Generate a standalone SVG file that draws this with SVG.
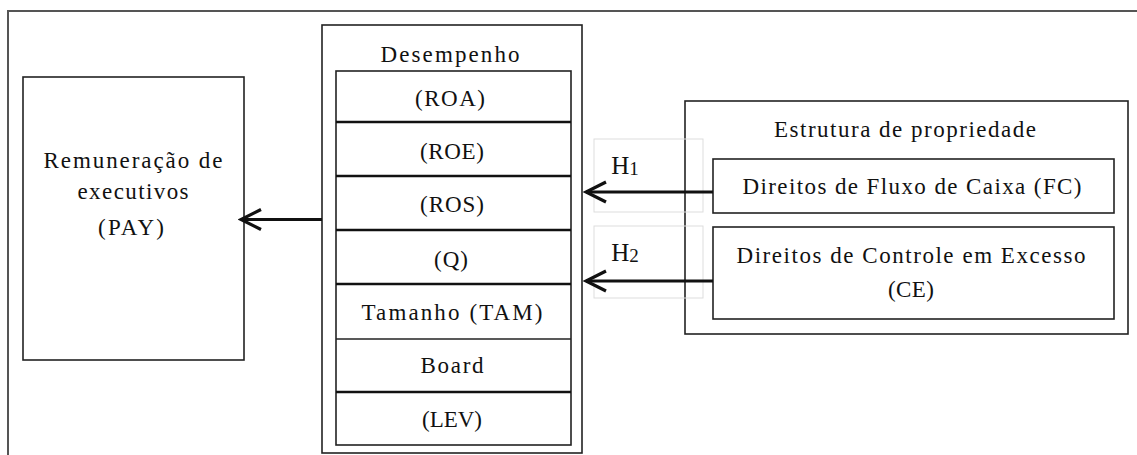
<svg xmlns="http://www.w3.org/2000/svg" width="1137" height="455" viewBox="0 0 1137 455">
<defs>
<style>
.t{font-family:"Liberation Serif","Times New Roman",serif;font-size:23px;fill:#111;text-anchor:middle}
.h{font-size:25px}
.sub{font-size:19px}
.box{fill:none;stroke:#222;stroke-width:1.6}
.sep{stroke:#111;stroke-width:2.6}
.thin{stroke:#222;stroke-width:1.3}
.conn{stroke:#111;stroke-width:3;fill:none}
.hint{fill:none;stroke:#ddd;stroke-width:1}
</style>
<marker id="chev" markerUnits="userSpaceOnUse" markerWidth="26" markerHeight="26" viewBox="-23 -13 26 26" refX="0" refY="0" orient="auto">
<path d="M-20,-10 L0,0 L-20,10" fill="none" stroke="#111" stroke-width="3.2"/>
</marker>
</defs>
<rect width="1137" height="455" fill="#fff"/>
<g id="frame">
<path d="M8,460 L8,11 L1140,11" fill="none" stroke="#555" stroke-width="2"/>
</g>
<g id="remuneracao">
<rect class="box" x="23" y="77" width="221" height="283"/>
<text class="t" x="133" y="168" textLength="179" lengthAdjust="spacing">Remuneração de</text>
<text class="t" x="133" y="199" textLength="111" lengthAdjust="spacing">executivos</text>
<text class="t" x="131" y="235" textLength="66" lengthAdjust="spacing">(PAY)</text>
</g>
<g id="desempenho">
<rect class="box" x="322" y="25" width="260" height="428"/>
<text class="t" x="450" y="62" textLength="139" lengthAdjust="spacing">Desempenho</text>
<rect class="box" x="336" y="71" width="235" height="374"/>
<line class="sep" x1="336" y1="122" x2="571" y2="122"/>
<line class="sep" x1="336" y1="176" x2="571" y2="176"/>
<line class="sep" x1="336" y1="230" x2="571" y2="230"/>
<line class="sep" x1="336" y1="284" x2="571" y2="284"/>
<line class="thin" x1="336" y1="339" x2="571" y2="339"/>
<line class="sep" x1="336" y1="392" x2="571" y2="392"/>
<text class="t" x="450" y="106" textLength="70" lengthAdjust="spacing">(ROA)</text>
<text class="t" x="452" y="159" textLength="64" lengthAdjust="spacing">(ROE)</text>
<text class="t" x="452" y="212" textLength="64" lengthAdjust="spacing">(ROS)</text>
<text class="t" x="451" y="267" textLength="34" lengthAdjust="spacing">(Q)</text>
<text class="t" x="452" y="320" textLength="181" lengthAdjust="spacing">Tamanho (TAM)</text>
<text class="t" x="452" y="373" textLength="63" lengthAdjust="spacing">Board</text>
<text class="t" x="452" y="427" textLength="60" lengthAdjust="spacing">(LEV)</text>
</g>
<g id="estrutura">
<rect class="box" x="685" y="101" width="443" height="233"/>
<text class="t" x="905" y="137" textLength="262" lengthAdjust="spacing">Estrutura de propriedade</text>
</g>
<g id="fc">
<rect class="box" x="713" y="159" width="401" height="54"/>
<text class="t" x="912" y="194" textLength="339" lengthAdjust="spacing">Direitos de Fluxo  de Caixa (FC)</text>
</g>
<g id="ce">
<rect class="box" x="713" y="227" width="401" height="92"/>
<text class="t" x="911" y="263" textLength="349" lengthAdjust="spacing">Direitos de Controle em Excesso</text>
<text class="t" x="911" y="297" textLength="46" lengthAdjust="spacing">(CE)</text>
</g>
<g id="connectors">
<rect class="hint" x="594" y="139" width="109" height="73"/>
<rect class="hint" x="594" y="226" width="109" height="72"/>
<line class="conn" x1="322" y1="219.5" x2="241" y2="219.5" marker-end="url(#chev)"/>
<line class="conn" x1="713" y1="192" x2="586" y2="192" marker-end="url(#chev)"/>
<line class="conn" x1="713" y1="281" x2="586" y2="281" marker-end="url(#chev)"/>
<text class="t h" x="625" y="174">H<tspan class="sub" dy="1">1</tspan></text>
<text class="t h" x="625" y="261">H<tspan class="sub" dy="1">2</tspan></text>
</g>
</svg>
